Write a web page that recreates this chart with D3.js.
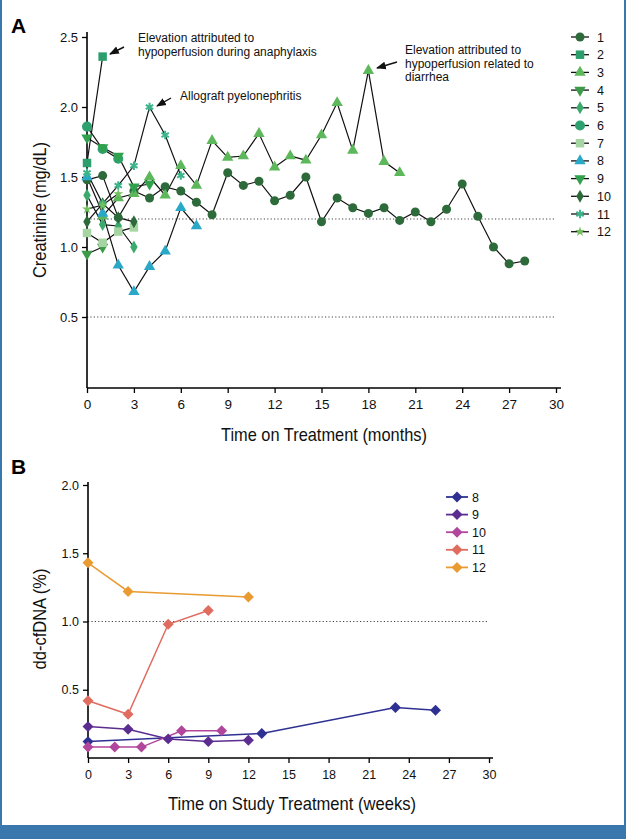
<!DOCTYPE html>
<html><head><meta charset="utf-8">
<script src="https://cdn.jsdelivr.net/npm/d3@7"></script>
<style>
html,body{margin:0;padding:0;background:#fff;}
svg{display:block;}
</style></head>
<body>
<script>
// ---------- Panel A: creatinine (mg/dL) by month, patients 1-12 ----------
const patientsA = ["1","2","3","4","5","6","7","8","9","10","11","12"];
const pt1 = [[0,1.48],[1,1.51],[2,1.21],[3,1.40],[4,1.35],[5,1.43],[6,1.40],[7,1.32],[8,1.23],[9,1.53],[10,1.44],[11,1.47],[12,1.33],[13,1.37],[14,1.50],[15,1.18],[16,1.35],[17,1.28],[18,1.24],[19,1.28],[20,1.19],[21,1.25],[22,1.18],[23,1.27],[24,1.45],[25,1.22],[26,1.00],[27,0.88],[28,0.90]];
const pt2 = [[0,1.60],[1,2.36]];
const pt3 = [[1,1.22],[2,1.35],[3,1.38],[4,1.50],[5,1.37],[6,1.58],[7,1.44],[8,1.76],[9,1.64],[10,1.65],[11,1.81],[12,1.57],[13,1.65],[14,1.62],[15,1.80],[16,2.03],[17,1.69],[18,2.26],[19,1.61],[20,1.53]];
const pt4 = [[0,0.95],[1,1.00]];
const pt5 = [[0,1.37],[1,1.16],[2,1.15],[3,1.00]];
const pt6 = [[0,1.86],[1,1.70],[2,1.63]];
const pt7 = [[0,1.10],[1,1.03],[2,1.11],[3,1.14]];
const pt8 = [[0,1.50],[1,1.24],[2,0.87],[3,0.68],[4,0.86],[5,0.97],[6,1.28],[7,1.15]];
const pt9 = [[0,1.78],[1,1.71],[2,1.65],[3,1.43],[4,1.45]];
const pt10 = [[0,1.18],[1,1.31],[2,1.21],[3,1.18]];
const pt11 = [[0,1.53],[1,1.31],[2,1.44],[3,1.58],[4,2.00],[5,1.80],[6,1.51]];
const pt12 = [[0,1.27],[1,1.30],[2,1.38]];
const seriesA = [pt1,pt2,pt3,pt4,pt5,pt6,pt7,pt8,pt9,pt10,pt11,pt12];
const colorsA = ["#2e6b3b","#2c9e6c","#5db85b","#3c9a48","#3aab6c","#2fa06f","#a7d4a3","#2aa8c7","#30a24d","#2d6a3a","#3db58b","#72c15e"];
const shapesA = ["circle","square","tri","tridown","diamond","bigcircle","square","tri","tridown","diamond","asterisk","star"];
const xTicksA = [0,3,6,9,12,15,18,21,24,27,30];
const yTicksA = [0.5,1.0,1.5,2.0,2.5];
const refLinesA = [1.2,0.5];
const notes = [
  {lines:["Elevation attributed to","hypoperfusion during anaphylaxis"], at:[1,2.36]},
  {lines:["Allograft pyelonephritis"], at:[4,2.00]},
  {lines:["Elevation attributed to","hypoperfusion related to","diarrhea"], at:[18,2.26]}
];

// ---------- Panel B: dd-cfDNA (%) by week, patients 8-12 ----------
const patientsB = ["8","9","10","11","12"];
const b8 = [[0,0.12],[13,0.18],[23,0.37],[26,0.35]];
const b9 = [[0,0.23],[3,0.21],[6,0.14],[9,0.12],[12,0.13]];
const b10 = [[0,0.08],[2,0.08],[4,0.08],[7,0.20],[10,0.20]];
const b11 = [[0,0.42],[3,0.32],[6,0.98],[9,1.08]];
const b12 = [[0,1.43],[3,1.22],[12,1.18]];
const seriesB = [b8,b9,b10,b11,b12];
const colorsB = ["#2e3192","#5c2d91","#b1479c","#e06c60","#e99b31"];
const xTicksB = [0,3,6,9,12,15,18,21,24,27,30];
const yTicksB = [0.5,1.0,1.5,2.0];
const refLinesB = [1.0];

const W = 626, H = 839;
const svg = d3.select("body").append("svg").attr("width",W).attr("height",H);
const SANS = "'Liberation Sans', Arial, Helvetica, sans-serif";

// frame
svg.append("rect").attr("x",0).attr("y",0).attr("width",W).attr("height",H).attr("fill","#fff");
svg.append("rect").attr("x",0).attr("y",0).attr("width",2).attr("height",H).attr("fill","#3a77ad");
svg.append("rect").attr("x",W-2).attr("y",0).attr("width",2).attr("height",H).attr("fill","#3a77ad");
svg.append("rect").attr("x",0).attr("y",825).attr("width",W).attr("height",H-825).attr("fill","#3a77ad");

function symbolPath(shape){
  switch(shape){
    case "circle": return d3.symbol(d3.symbolCircle, 64)();
    case "bigcircle": return d3.symbol(d3.symbolCircle, 80)();
    case "square": return d3.symbol(d3.symbolSquare, 72)();
    case "tri": return d3.symbol(d3.symbolTriangle, 56)();
    case "tridown": return d3.symbol(d3.symbolTriangle, 56)();
    case "diamond": return d3.symbol(d3.symbolDiamond, 48)();
    case "asterisk": return d3.symbol(d3.symbolAsterisk, 50)();
    case "star": return d3.symbol(d3.symbolStar, 30)();
  }
}
function drawMarker(g, shape, color, x, y){
  const p = g.append("path").attr("d", symbolPath(shape))
    .attr("transform", `translate(${x},${y})` + (shape==="tridown" ? " rotate(180)" : ""));
  if(shape==="asterisk"){ p.attr("fill","none").attr("stroke",color).attr("stroke-width",2); }
  else p.attr("fill",color);
}
function title(g, txt, x, y, size, len, rot){
  const t = g.append("text").attr("text-anchor","middle").attr("font-family",SANS).attr("font-size",size)
    .attr("fill","#111").attr("textLength",len).attr("lengthAdjust","spacingAndGlyphs").text(txt);
  if(rot) t.attr("transform",`translate(${x},${y}) rotate(-90)`); else t.attr("x",x).attr("y",y);
  return t;
}

// ===== Panel A =====
const xA = d3.scaleLinear([0,30],[87,556]);
const yA = d3.scaleLinear([0,2.5],[387,37]);
const gA = svg.append("g");
svg.append("text").attr("x",11).attr("y",33).text("A").attr("font-family",SANS).attr("font-weight","bold").attr("font-size",21);

refLinesA.forEach(v=>{
  gA.append("line").attr("x1",xA(0)).attr("x2",xA(30)).attr("y1",yA(v)).attr("y2",yA(v))
    .attr("stroke","#444").attr("stroke-width",1.1).attr("stroke-dasharray","1.2,2.2");
});
const axA = gA.append("g").attr("transform",`translate(0,${yA(0)+1})`)
  .call(d3.axisBottom(xA).tickValues(xTicksA).tickSize(5).tickPadding(6));
axA.select(".domain").attr("d",`M${xA(0)},0H${xA(30)+5}`).attr("stroke-width",1.6);
axA.selectAll("text").attr("font-family",SANS).attr("font-size",13.5).attr("fill","#111");
const ayA = gA.append("g").attr("transform",`translate(${xA(0)},0)`)
  .call(d3.axisLeft(yA).tickValues(yTicksA).tickFormat(d3.format(".1f")).tickSize(5).tickPadding(4));
ayA.select(".domain").attr("d",`M0,${yA(0)+1}V${yA(2.5)-5}`).attr("stroke-width",1.6);
ayA.selectAll("text").attr("font-family",SANS).attr("font-size",13).attr("fill","#111");
[axA,ayA].forEach(a=>a.selectAll(".tick line").attr("stroke-width",1.3));

title(gA, "Time on Treatment (months)", 324, 441, 18.5, 206, false);
title(gA, "Creatinine (mg/dL)", 46, 210, 19, 136, true);

const lineA = d3.line().x(d=>xA(d[0])).y(d=>yA(d[1]));
seriesA.forEach(s=>{
  gA.append("path").attr("d",lineA(s)).attr("fill","none").attr("stroke","#111").attr("stroke-width",1.2);
});
seriesA.forEach((s,i)=>{
  s.forEach(d=>drawMarker(gA, shapesA[i], colorsA[i], xA(d[0]), yA(d[1])));
});

// annotations
const noteTextPos = [[138,42],[180,100],[405,54]];
const arrowTail = [[124,47],[171,98],[397,62]];
const arrowHead = [[110,54],[157,106],[377,68]];
svg.append("defs").append("marker").attr("id","ah").attr("viewBox","0 0 10 10").attr("refX",9).attr("refY",5)
  .attr("markerWidth",7).attr("markerHeight",7).attr("orient","auto")
  .append("path").attr("d","M0,1L10,5L0,9z").attr("fill","#111");
notes.forEach((n,i)=>{
  const t = gA.append("text").attr("font-family",SANS).attr("font-size",12).attr("fill","#111");
  n.lines.forEach((l,j)=>t.append("tspan").attr("x",noteTextPos[i][0]).attr("y",noteTextPos[i][1]+j*13.5).text(l));
  gA.append("line").attr("x1",arrowTail[i][0]).attr("y1",arrowTail[i][1]).attr("x2",arrowHead[i][0]).attr("y2",arrowHead[i][1])
    .attr("stroke","#111").attr("stroke-width",1.4).attr("marker-end","url(#ah)");
});

// legend A
const legA = gA.append("g");
patientsA.forEach((p,i)=>{
  const y = 37 + i*17.7;
  legA.append("line").attr("x1",571).attr("x2",589).attr("y1",y).attr("y2",y).attr("stroke","#111").attr("stroke-width",1.3);
  drawMarker(legA, shapesA[i], colorsA[i], 580, y);
  legA.append("text").attr("x",597).attr("y",y+4.5).attr("font-family",SANS).attr("font-size",12.5).attr("fill","#111").text(p);
});

// ===== Panel B =====
const xB = d3.scaleLinear([0,30],[88,489]);
const yB = d3.scaleLinear([0,2],[758,485]);
const gB = svg.append("g");
svg.append("text").attr("x",11).attr("y",474).text("B").attr("font-family",SANS).attr("font-weight","bold").attr("font-size",21);

refLinesB.forEach(v=>{
  gB.append("line").attr("x1",xB(0)).attr("x2",xB(30)).attr("y1",yB(v)).attr("y2",yB(v))
    .attr("stroke","#444").attr("stroke-width",1.1).attr("stroke-dasharray","1.2,2.2");
});
const axB = gB.append("g").attr("transform",`translate(0,${yB(0)})`)
  .call(d3.axisBottom(xB).tickValues(xTicksB).tickSize(5).tickPadding(7));
axB.select(".domain").attr("d",`M${xB(0)},0H${xB(30)+4}`).attr("stroke-width",1.6);
axB.selectAll("text").attr("font-family",SANS).attr("font-size",12.5).attr("fill","#111");
const ayB = gB.append("g").attr("transform",`translate(${xB(0)},0)`)
  .call(d3.axisLeft(yB).tickValues(yTicksB).tickFormat(d3.format(".1f")).tickSize(5).tickPadding(4));
ayB.select(".domain").attr("d",`M0,${yB(0)}V${yB(2)-3}`).attr("stroke-width",1.6);
ayB.selectAll("text").attr("font-family",SANS).attr("font-size",12.5).attr("fill","#111");
[axB,ayB].forEach(a=>a.selectAll(".tick line").attr("stroke-width",1.3));

title(gB, "Time on Study Treatment (weeks)", 292, 810, 18.5, 248, false);
title(gB, "dd-cfDNA (%)", 46, 619, 18, 101, true);

const lineB = d3.line().x(d=>xB(d[0])).y(d=>yB(d[1]));
const diamondB = d3.symbol(d3.symbolSquare, 60)();
seriesB.forEach((s,i)=>{
  gB.append("path").attr("d",lineB(s)).attr("fill","none").attr("stroke",colorsB[i]).attr("stroke-width",1.5);
});
seriesB.forEach((s,i)=>{
  s.forEach(d=>gB.append("path").attr("d",diamondB).attr("fill",colorsB[i])
    .attr("transform",`translate(${xB(d[0])},${yB(d[1])}) rotate(45)`));
});
const legB = gB.append("g");
patientsB.forEach((p,i)=>{
  const y = 497 + i*17.6;
  legB.append("line").attr("x1",446).attr("x2",468).attr("y1",y).attr("y2",y).attr("stroke",colorsB[i]).attr("stroke-width",1.8);
  legB.append("path").attr("d",diamondB).attr("fill",colorsB[i]).attr("transform",`translate(457,${y}) rotate(45)`);
  legB.append("text").attr("x",472).attr("y",y+4.5).attr("font-family",SANS).attr("font-size",12.5).attr("fill","#111").text(p);
});
</script>
</body></html>
